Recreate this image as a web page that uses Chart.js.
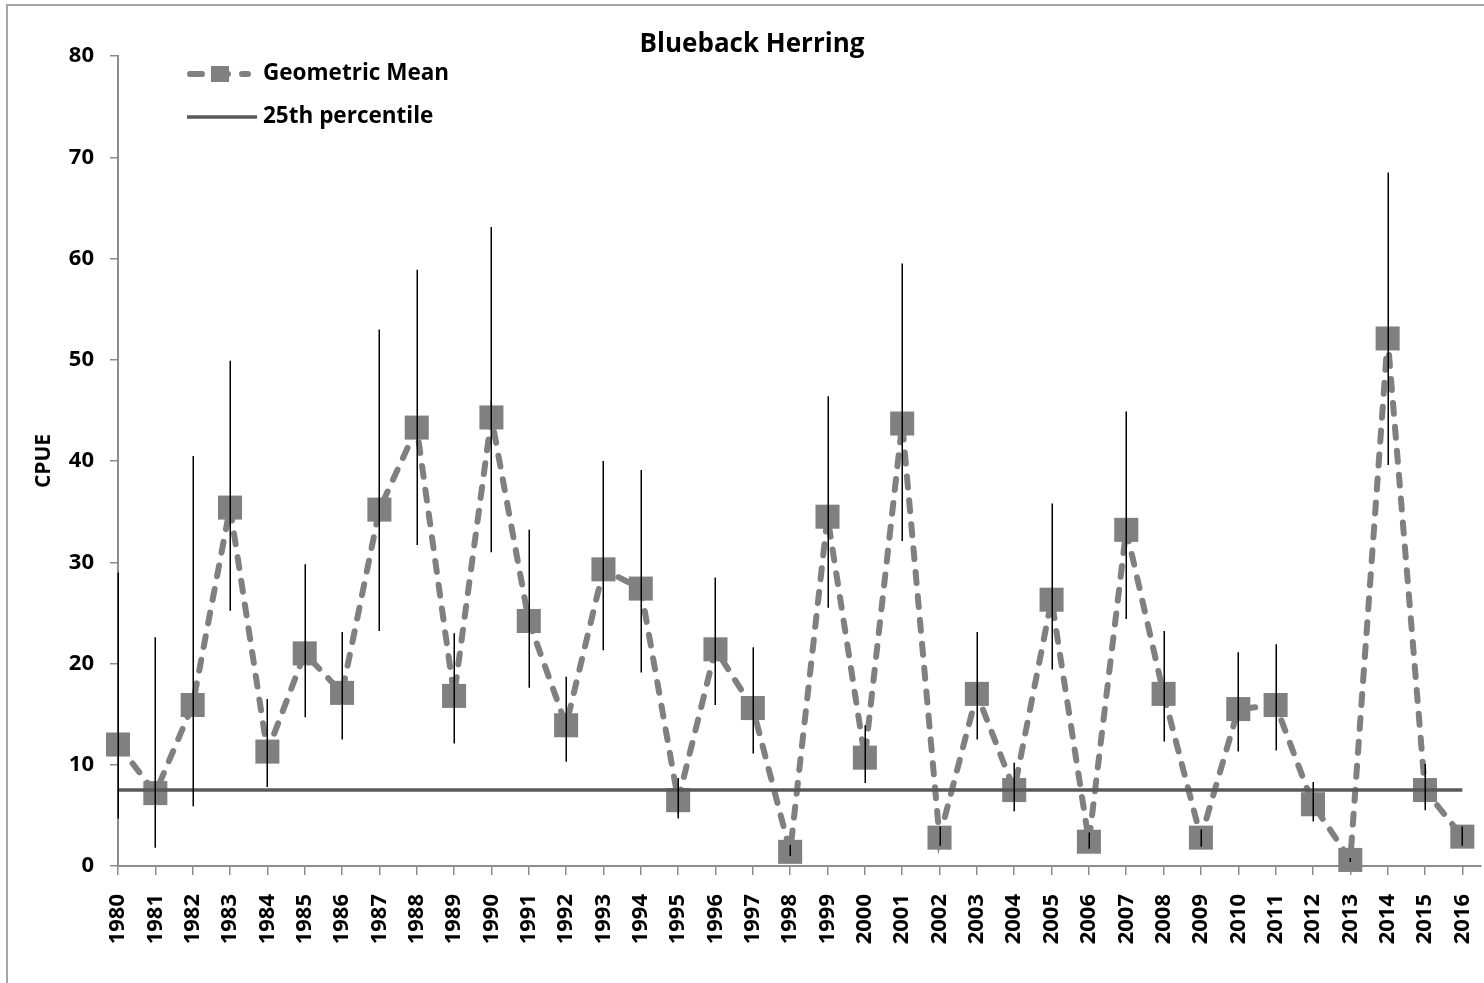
<!DOCTYPE html>
<html>
<head>
<meta charset="utf-8">
<script src="https://cdn.jsdelivr.net/npm/chart.js@4/dist/chart.umd.min.js"></script>
<style>
  html, body { margin: 0; padding: 0; background: #fff; }
  #wrap { width: 1484px; height: 983px; }
</style>
</head>
<body>
<div id="wrap"><canvas id="myChart" width="1484" height="983"></canvas></div>
<script>
// Blueback herring CPUE, geometric mean with error bars, 1980-2016
var years = [1980, 1981, 1982, 1983, 1984, 1985, 1986, 1987, 1988, 1989,
             1990, 1991, 1992, 1993, 1994, 1995, 1996, 1997, 1998, 1999,
             2000, 2001, 2002, 2003, 2004, 2005, 2006, 2007, 2008, 2009,
             2010, 2011, 2012, 2013, 2014, 2015, 2016];
var geoMean = [12.0, 7.2, 15.9, 35.4, 11.3, 21.0, 17.1, 35.2, 43.3, 16.8,
               44.3, 24.2, 13.9, 29.3, 27.4, 6.5, 21.4, 15.6, 1.4, 34.5,
               10.7, 43.7, 2.8, 17.0, 7.5, 26.3, 2.4, 33.2, 17.0, 2.8,
               15.5, 15.9, 6.1, 0.6, 52.1, 7.5, 2.9];
var errHigh = [29.0, 22.6, 40.5, 49.9, 16.5, 29.8, 23.1, 53.0, 58.9, 23.0,
               63.1, 33.2, 18.7, 40.0, 39.1, 8.7, 28.5, 21.6, 2.1, 46.4,
               13.9, 59.5, 3.9, 23.1, 10.2, 35.8, 3.3, 44.9, 23.2, 3.6,
               21.1, 21.9, 8.3, 0.8, 68.5, 10.1, 3.9];
var errLow = [4.7, 1.8, 5.9, 25.2, 7.8, 14.7, 12.5, 23.2, 31.7, 12.1,
              31.0, 17.6, 10.3, 21.3, 19.1, 4.7, 15.9, 11.1, 1.0, 25.5,
              8.2, 32.1, 2.0, 12.5, 5.4, 19.4, 1.7, 24.4, 12.3, 1.9,
              11.3, 11.4, 4.4, 0.4, 39.6, 5.5, 2.0];
var pct25 = 7.5;
var yTicks = [0, 10, 20, 30, 40, 50, 60, 70, 80];

var FONT = '"Open Sans", "Liberation Sans", sans-serif';
var markerGray = '#808080';
var lineGray = '#595959';
var axisGray = '#8c8c8c';

var meanPoints = years.map(function (yr, i) { return { x: yr, y: geoMean[i] }; });
var pctPoints = [{ x: years[0], y: pct25 }, { x: years[years.length - 1], y: pct25 }];

// frame, error bars, title and in-plot legend
var extras = {
    id: 'extras',
    beforeDraw: function (chart) {
        var ctx = chart.ctx;
        ctx.save();
        ctx.fillStyle = '#fff';
        ctx.fillRect(0, 0, chart.width, chart.height);
        ctx.strokeStyle = '#a6a6a6';
        ctx.lineWidth = 2;
        ctx.strokeRect(7, 5, chart.width + 20, chart.height + 20);
        ctx.restore();
    },
    afterDatasetsDraw: function (chart) {
        var ctx = chart.ctx, xs = chart.scales.x, ys = chart.scales.y;
        ctx.save();
        ctx.strokeStyle = '#000';
        ctx.lineWidth = 1.5;
        ctx.beginPath();
        for (var i = 0; i < years.length; i++) {
            var px = Math.round(xs.getPixelForValue(years[i])) + 0.25;
            ctx.moveTo(px, ys.getPixelForValue(errHigh[i]));
            ctx.lineTo(px, ys.getPixelForValue(errLow[i]));
        }
        ctx.stroke();
        ctx.restore();
    },
    afterDraw: function (chart) {
        var ctx = chart.ctx;
        ctx.save();
        ctx.fillStyle = '#000';
        ctx.textBaseline = 'middle';
        ctx.textAlign = 'center';
        ctx.font = 'bold 26px ' + FONT;
        ctx.fillText('Blueback Herring', 752, 45);

        ctx.textAlign = 'left';
        ctx.font = 'bold 22.5px ' + FONT;
        // Geometric Mean entry
        ctx.strokeStyle = markerGray;
        ctx.lineWidth = 6;
        ctx.lineCap = 'round';
        ctx.setLineDash([12, 14]);
        ctx.beginPath();
        ctx.moveTo(190, 74);
        ctx.lineTo(248, 74);
        ctx.stroke();
        ctx.setLineDash([]);
        ctx.fillStyle = markerGray;
        ctx.fillRect(211, 66, 18, 16);
        ctx.fillStyle = '#000';
        ctx.fillText('Geometric Mean', 263, 74);
        // 25th percentile entry
        ctx.strokeStyle = lineGray;
        ctx.lineWidth = 3.5;
        ctx.lineCap = 'butt';
        ctx.beginPath();
        ctx.moveTo(187, 117);
        ctx.lineTo(257, 117);
        ctx.stroke();
        ctx.fillText('25th percentile', 263, 117);
        ctx.restore();
    }
};

var ctx = document.getElementById('myChart').getContext('2d');
var myChart = new Chart(ctx, {
    type: 'line',
    data: {
        datasets: [{
            label: 'Geometric Mean',
            data: meanPoints,
            borderColor: markerGray,
            borderWidth: 6,
            borderDash: [11, 13],
            borderCapStyle: 'round',
            pointStyle: 'rect',
            pointRadius: 17,
            pointBorderWidth: 0,
            pointBackgroundColor: markerGray,
            fill: false,
            clip: false,
            order: 2
        }, {
            label: '25th percentile',
            data: pctPoints,
            borderColor: lineGray,
            borderWidth: 3.5,
            pointRadius: 0,
            fill: false,
            order: 1
        }]
    },
    options: {
        responsive: false,
        animation: false,
        devicePixelRatio: 1,
        layout: {
            autoPadding: false,
            padding: { top: 56, right: 3, left: 0, bottom: 0 }
        },
        plugins: {
            legend: { display: false },
            tooltip: { enabled: false },
            title: { display: false }
        },
        scales: {
            x: {
                type: 'linear',
                min: years[0],
                // axis runs half a year past the last point
                max: years[years.length - 1] + 0.5,
                afterFit: function (scale) {
                    scale.height = 117;
                    scale.paddingLeft = 0;
                    scale.paddingRight = 0;
                },
                border: { color: axisGray, width: 2 },
                grid: { drawOnChartArea: false, color: axisGray, tickLength: 9, lineWidth: 1.5 },
                ticks: {
                    stepSize: 1,
                    includeBounds: false,
                    autoSkip: false,
                    maxRotation: 90,
                    minRotation: 90,
                    padding: 19,
                    color: '#000',
                    font: { family: FONT, size: 22, weight: 'bold' },
                    callback: function (v) { return String(v); }
                }
            },
            y: {
                min: yTicks[0],
                max: yTicks[yTicks.length - 1],
                afterFit: function (scale) {
                    scale.width = 118;
                    scale.paddingTop = 0;
                    scale.paddingBottom = 0;
                },
                border: { color: axisGray, width: 2 },
                grid: { drawOnChartArea: false, color: axisGray, tickLength: 8, lineWidth: 1.5 },
                afterBuildTicks: function (scale) {
                    scale.ticks = yTicks.map(function (v) { return { value: v }; });
                },
                ticks: {
                    padding: 16,
                    color: '#000',
                    font: { family: FONT, size: 22, weight: 'bold' }
                },
                title: {
                    display: true,
                    text: 'CPUE',
                    color: '#000',
                    font: { family: FONT, size: 21, weight: 'bold' },
                    padding: { top: 31, bottom: 0 }
                }
            }
        }
    },
    plugins: [extras]
});
</script>
</body>
</html>
